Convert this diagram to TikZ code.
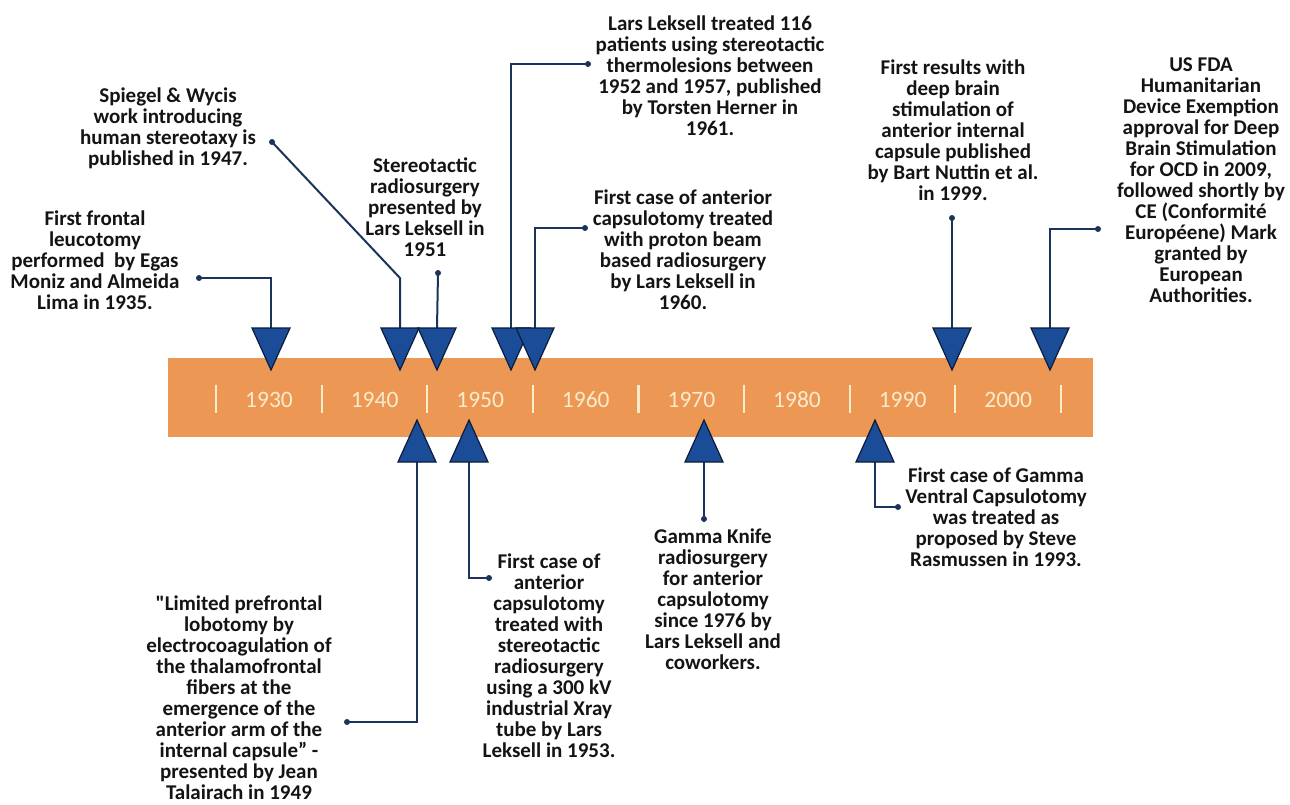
\documentclass[tikz,border=0pt]{standalone}
\usepackage{fontspec}
\setmainfont{Carlito}
\newfontfamily\straightq{Carlito}[Ligatures=ResetAll]
\definecolor{barcol}{RGB}{236,152,84}
\definecolor{yearcol}{RGB}{250,235,205}
\definecolor{linecol}{RGB}{28,52,92}
\definecolor{tricol}{RGB}{26,76,152}
\definecolor{triedge}{RGB}{12,28,60}
\definecolor{txtcol}{RGB}{20,20,20}
\begin{document}
\begin{tikzpicture}[x=1pt,y=-1pt,
  txt/.style={font=\fontsize{21}{21}\selectfont\bfseries, align=center, text=txtcol, inner sep=0pt},
  yr/.style={font=\fontsize{23.5}{24}\selectfont, text=yearcol, inner sep=0pt},
  conn/.style={draw=linecol, line width=2pt},
  dot/.style={circle, fill=linecol, minimum size=6pt, inner sep=0pt},
  tri/.style={fill=tricol, draw=triedge, line width=1.2pt, line join=miter},
  tickmark/.style={draw=yearcol, line width=2.2pt}]
\useasboundingbox (0,0) rectangle (1290,805);
\fill[white] (0,0) rectangle (1290,805);

% timeline bar
\node[fill=barcol, minimum width=925pt, minimum height=79pt, inner sep=0pt, anchor=north west] (bar) at (168,358) {};
\foreach \i in {0,...,8} \draw[tickmark] ({216+105.6*\i},385) -- ++(0,28);
\foreach \i/\yr in {0/1930,1/1940,2/1950,3/1960,4/1970,5/1980,6/1990,7/2000}
  \node[yr] (y\yr) at ({269+105.6*\i},400) {\yr};

% texts above
\node[txt] (A) at (95,260) {First frontal\\leucotomy\\performed \ by Egas\\Moniz and Almeida\\Lima in 1935.};
\node[txt] (B) at (168,128.5) {Spiegel \& Wycis\\work introducing\\human stereotaxy is\\published in 1947.};
\node[txt] (C) at (425,207) {Stereotactic\\radiosurgery\\presented by\\Lars Leksell in\\1951};
\node[txt] (D) at (710,75.5) {Lars Leksell treated 116\\patients using stereotactic\\thermolesions between\\1952 and 1957, published\\by Torsten Herner in\\1961.};
\node[txt] (E) at (683,250) {First case of anterior\\capsulotomy treated\\with proton beam\\based radiosurgery\\by Lars Leksell in\\1960.};
\node[txt] (F) at (953,130) {First results with\\deep brain\\stimulation of\\anterior internal\\capsule published\\by Bart Nuttin et al.\\in 1999.};
\node[txt] (G) at (1201,180) {US FDA\\Humanitarian\\Device Exemption\\approval for Deep\\Brain Stimulation\\for OCD in 2009,\\followed shortly by\\CE (Conformité\\Européene) Mark\\granted by\\European\\Authorities.};

% texts below
\node[txt] (H) at (239,698) {{\straightq\bfseries\char"22}Limited prefrontal\\lobotomy by\\electrocoagulation of\\the thalamofrontal\\fibers at the\\emergence of the\\anterior arm of the\\internal capsule” -\\presented by Jean\\Talairach in 1949};
\node[txt] (I) at (549,656) {First case of\\anterior\\capsulotomy\\treated with\\stereotactic\\radiosurgery\\using a 300 kV\\industrial Xray\\tube by Lars\\Leksell in 1953.};
\node[txt] (J) at (713,599) {Gamma Knife\\radiosurgery\\for anterior\\capsulotomy\\since 1976 by\\Lars Leksell and\\coworkers.};
\node[txt] (K) at (996,517) {First case of Gamma\\Ventral Capsulotomy\\was treated as\\proposed by Steve\\Rasmussen in 1993.};

% triangle anchor points
\foreach \n/\x in {t1/271,t2/400,t3/437,t4/511,t5/535,t6/952,t7/1050}
  \coordinate (\n) at (\x,328);
\foreach \n/\x in {u1/417,u2/469,u3/704,u4/875}
  \coordinate (\n) at (\x,462);
\coordinate (b2) at (400,278);

% dots
\node[dot] (d1) at (199,278) {};
\node[dot] (d2) at (272,142) {};
\node[dot] (d3) at (438,273) {};
\node[dot] (d4) at (588,64) {};
\node[dot] (d5) at (585,228) {};
\node[dot] (d6) at (952,218) {};
\node[dot] (d7) at (1098,229) {};
\node[dot] (d8) at (347,722) {};
\node[dot] (d9) at (489,578) {};
\node[dot] (d10) at (704,519) {};
\node[dot] (d11) at (898,507) {};

% connectors
\draw[conn] (d1.center) -| (t1);
\draw[conn] (d2.center) -- (b2) -- (t2);
\draw[conn] (d3.center) -- (t3);
\draw[conn] (d4.center) -| (t4);
\draw[conn] (d5.center) -| (t5);
\draw[conn] (d6.center) -- (t6);
\draw[conn] (d7.center) -| (t7);
\draw[conn] (u1) |- (d8.center);
\draw[conn] (u2) |- (d9.center);
\draw[conn] (u3) -- (d10.center);
\draw[conn] (u4) |- (d11.center);

% triangles
\foreach \n in {t1,t2,t3,t4,t5,t6,t7}
  \draw[tri] (\n) ++(-19,0) -- ++(38,0) -- ++(-19,42) -- cycle;
\foreach \n in {u1,u2,u3,u4}
  \draw[tri] (\n) ++(-19,0) -- ++(38,0) -- ++(-19,-42) -- cycle;
\end{tikzpicture}
\end{document}
